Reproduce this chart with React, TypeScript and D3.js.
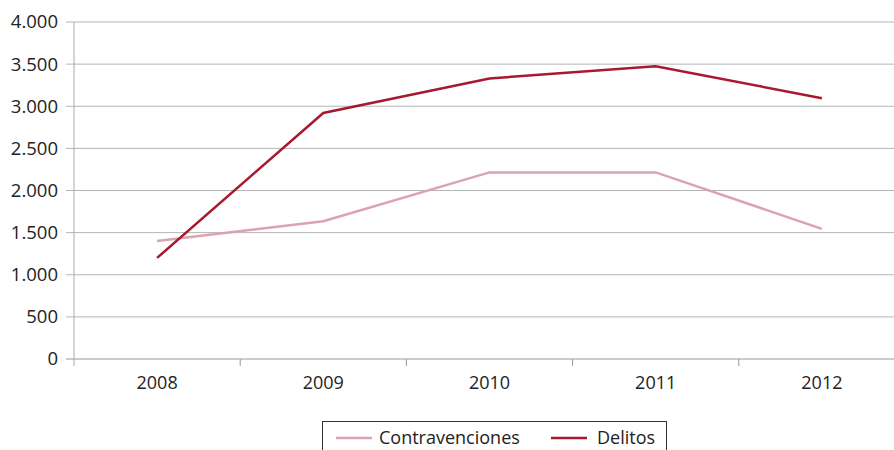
import React from "react";
import * as d3 from "d3";

const years = ["2008", "2009", "2010", "2011", "2012"];
const contravenciones = [1400, 1635, 2215, 2215, 1545];
const delitos = [1200, 2920, 3330, 3475, 3095];
const yTicks = [0, 500, 1000, 1500, 2000, 2500, 3000, 3500, 4000];
const seriesNames = ["Contravenciones", "Delitos"];
const colors = ["#DBA3AF", "#A8182F"];

const fmt = (v: number) => (v >= 1000 ? d3.format(",")(v).replace(/,/g, ".") : String(v));

export default function App() {
  const W = 894, H = 450;
  const left = 74, right = 905, top = 22, bottom = 359;
  const x = d3.scaleBand().domain(years).range([left, right]);
  const y = d3.scaleLinear().domain([0, 4000]).range([bottom, top]);
  const line = d3.line<number>().x((_, i) => (x(years[i]) as number) + x.bandwidth() / 2).y((d) => y(d));
  const font = "'Open Sans', sans-serif";
  const series = [contravenciones, delitos];
  return (
    <svg width={W} height={H} style={{ position: "absolute", left: 0, top: 0 }}>
      <rect width={W} height={H} fill="#fff" />
      {yTicks.map((t) => (
        <g key={t}>
          <line x1={66} x2={W} y1={y(t)} y2={y(t)} stroke={t === 0 ? "#999" : "#b5b5b5"} strokeWidth={1} />
          <text x={58} y={y(t)} dy="0.35em" textAnchor="end" fontFamily={font} fontSize={18.5} fill="#222">
            {fmt(t)}
          </text>
        </g>
      ))}
      <line x1={left} x2={left} y1={top} y2={bottom + 7} stroke="#aaa" />
      {years.map((yr, i) => (
        <g key={yr}>
          {i > 0 && (
            <line x1={x(yr)} x2={x(yr)} y1={bottom} y2={bottom + 7} stroke="#999" />
          )}
          <text x={(x(yr) as number) + x.bandwidth() / 2} y={389} textAnchor="middle" fontFamily={font} fontSize={18} fill="#222">
            {yr}
          </text>
        </g>
      ))}
      {series.map((s, i) => (
        <path key={i} d={line(s) || ""} fill="none" stroke={colors[i]} strokeWidth={2.5} />
      ))}
      <rect x={322.5} y={421.5} width={344} height={40} fill="#fff" stroke="#333" strokeWidth={1} />
      <line x1={336} x2={372} y1={438} y2={438} stroke={colors[0]} strokeWidth={2.5} />
      <text x={379} y={438} dy="0.35em" fontFamily={font} fontSize={18} fill="#222">{seriesNames[0]}</text>
      <line x1={551} x2={587} y1={438} y2={438} stroke={colors[1]} strokeWidth={2.5} />
      <text x={597} y={438} dy="0.35em" fontFamily={font} fontSize={18} fill="#222">{seriesNames[1]}</text>
    </svg>
  );
}
